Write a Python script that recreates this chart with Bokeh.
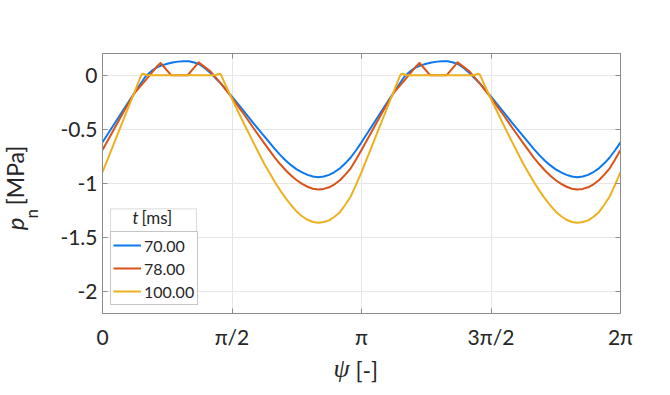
import numpy as np
from bokeh.plotting import figure
from bokeh.layouts import row, column
from bokeh.models import (Range1d, FixedTicker, CustomJSTickFormatter, LinearAxis,
                          Legend, LegendItem, Label, BoxAnnotation)
from bokeh.core.properties import value
from bokeh.embed import file_html
from bokeh.resources import INLINE

# psi in units of pi, p_n in MPa
psi_blue = [0, 0.0417, 0.0833, 0.125, 0.1667, 0.1875, 0.2083, 0.2292, 0.25, 0.2708, 0.2917, 0.3125,
            0.3333, 0.3542, 0.375, 0.3958, 0.4167, 0.4583, 0.5, 0.5417, 0.5833, 0.625, 0.6667, 0.6875,
            0.7083, 0.7292, 0.75, 0.7708, 0.7917, 0.8125, 0.8333, 0.8542, 0.875, 0.8958, 0.9167, 0.9375,
            0.9583, 0.9792, 1.0,
            1.0417, 1.0833, 1.125, 1.1667, 1.1875, 1.2083, 1.2292, 1.25, 1.2708, 1.2917, 1.3125,
            1.3333, 1.3542, 1.375, 1.3958, 1.4167, 1.4583, 1.5, 1.5417, 1.5833, 1.625, 1.6667, 1.6875,
            1.7083, 1.7292, 1.75, 1.7708, 1.7917, 1.8125, 1.8333, 1.8542, 1.875, 1.8958, 1.9167, 1.9375,
            1.9583, 1.9792, 2.0]
pn_blue = [-0.62, -0.465, -0.31, -0.158, -0.01, 0.035, 0.07, 0.09, 0.105, 0.117, 0.125, 0.129,
           0.128, 0.117, 0.1, 0.064, 0.02, -0.08, -0.198, -0.32, -0.445, -0.565, -0.685, -0.74,
           -0.79, -0.833, -0.87, -0.898, -0.92, -0.936, -0.942, -0.936, -0.92, -0.894, -0.86, -0.814,
           -0.76, -0.693, -0.62,
           -0.465, -0.31, -0.158, -0.01, 0.035, 0.07, 0.09, 0.105, 0.117, 0.125, 0.129,
           0.128, 0.117, 0.1, 0.064, 0.02, -0.08, -0.198, -0.32, -0.445, -0.565, -0.685, -0.74,
           -0.79, -0.833, -0.87, -0.898, -0.92, -0.936, -0.942, -0.936, -0.92, -0.894, -0.86, -0.814,
           -0.76, -0.693, -0.62]

psi_orange = [0, 0.0417, 0.0833, 0.125, 0.1667, 0.2083, 0.224, 0.265, 0.329, 0.371, 0.4167, 0.4583,
              0.5, 0.5417, 0.5833, 0.625, 0.6667, 0.6875, 0.7083, 0.7292, 0.75, 0.7708, 0.7917, 0.8125,
              0.8333, 0.8542, 0.875, 0.8958, 0.9167, 0.9375, 0.9583, 0.9792, 1.0,
              1.0417, 1.0833, 1.125, 1.1667, 1.2083, 1.224, 1.265, 1.329, 1.371, 1.4167, 1.4583,
              1.5, 1.5417, 1.5833, 1.625, 1.6667, 1.6875, 1.7083, 1.7292, 1.75, 1.7708, 1.7917, 1.8125,
              1.8333, 1.8542, 1.875, 1.8958, 1.9167, 1.9375, 1.9583, 1.9792, 2.0]
pn_orange = [-0.69, -0.51, -0.33, -0.16, -0.045, 0.075, 0.112, 0.0, 0.0, 0.118, 0.035, -0.08,
             -0.21, -0.345, -0.49, -0.63, -0.765, -0.825, -0.88, -0.928, -0.97, -1.003, -1.03, -1.048,
             -1.056, -1.05, -1.035, -1.007, -0.97, -0.918, -0.86, -0.778, -0.69,
             -0.51, -0.33, -0.16, -0.045, 0.075, 0.112, 0.0, 0.0, 0.118, 0.035, -0.08,
             -0.21, -0.345, -0.49, -0.63, -0.765, -0.825, -0.88, -0.928, -0.97, -1.003, -1.03, -1.048,
             -1.056, -1.05, -1.035, -1.007, -0.97, -0.918, -0.86, -0.778, -0.69]

psi_yellow = [0, 0.0417, 0.0833, 0.125, 0.140, 0.146, 0.152, 0.158, 0.165, 0.173,
              0.436, 0.443, 0.450, 0.456, 0.462, 0.470, 0.5, 0.5417, 0.5833, 0.625, 0.6667, 0.6875,
              0.7083, 0.7292, 0.75, 0.7708, 0.7917, 0.8125, 0.8333, 0.8542, 0.875, 0.8958, 0.9167,
              0.9375, 0.9583, 0.9792, 1.0,
              1.0417, 1.0833, 1.125, 1.140, 1.146, 1.152, 1.158, 1.165, 1.173,
              1.436, 1.443, 1.450, 1.456, 1.462, 1.470, 1.5, 1.5417, 1.5833, 1.625, 1.6667, 1.6875,
              1.7083, 1.7292, 1.75, 1.7708, 1.7917, 1.8125, 1.8333, 1.8542, 1.875, 1.8958, 1.9167,
              1.9375, 1.9583, 1.9792, 2.0]
pn_yellow = [-0.895, -0.646, -0.397, -0.148, -0.057, -0.02, 0.008, 0.013, 0.006, 0.0,
             0.0, 0.006, 0.013, 0.008, -0.02, -0.065, -0.22, -0.425, -0.625, -0.82, -0.99, -1.068,
             -1.14, -1.203, -1.26, -1.302, -1.335, -1.355, -1.362, -1.356, -1.34, -1.307, -1.265,
             -1.196, -1.12, -1.01, -0.895,
             -0.646, -0.397, -0.148, -0.057, -0.02, 0.008, 0.013, 0.006, 0.0,
             0.0, 0.006, 0.013, 0.008, -0.02, -0.065, -0.22, -0.425, -0.625, -0.82, -0.99, -1.068,
             -1.14, -1.203, -1.26, -1.302, -1.335, -1.355, -1.362, -1.356, -1.34, -1.307, -1.265,
             -1.196, -1.12, -1.01, -0.895]

series_labels = ["70.00", "78.00", "100.00"]
x_tick_values = [0, 0.5, 1, 1.5, 2]
x_tick_labels = ["0", "π/2", "π", "3π/2", "2π"]
y_tick_values = [-2, -1.5, -1, -0.5, 0]
y_tick_labels = ["-2", "-1.5", "-1", "-0.5", "0"]

BLUE = "#0a78f0"
ORANGE = "#D95319"
YELLOW = "#EDB120"
GRAY = "#8c8c8c"
TXT = "#262626"
FONT = "Lato"

YLAB_W = 50
MAIN_H = 353
TOTAL_W = 662
TOTAL_H = 395

p = figure(width=TOTAL_W - YLAB_W, height=MAIN_H, x_range=Range1d(0, 2), y_range=Range1d(-2.2, 0.2),
           output_backend="svg", toolbar_location=None, title=None,
           min_border_left=52, min_border_right=42, min_border_top=53, min_border_bottom=40)
p.background_fill_color = "white"
p.border_fill_color = "white"
p.outline_line_color = GRAY
p.outline_line_width = 1

xticker = FixedTicker(ticks=x_tick_values)
yticker = FixedTicker(ticks=y_tick_values)
code = "const i = vals.findIndex(v => Math.abs(v - tick) < 1e-9); return i >= 0 ? labs[i] : '';"
xfmt = CustomJSTickFormatter(args=dict(vals=x_tick_values, labs=x_tick_labels), code=code)
yfmt = CustomJSTickFormatter(args=dict(vals=y_tick_values, labs=y_tick_labels), code=code)
empty = CustomJSTickFormatter(code="return '';")

def style_axis(ax, standoff):
    ax.major_tick_in = 5
    ax.major_tick_out = 0
    ax.minor_tick_in = 0
    ax.minor_tick_out = 0
    ax.axis_line_color = GRAY
    ax.major_tick_line_color = GRAY
    ax.major_label_text_font = FONT
    ax.major_label_text_font_size = "21px"
    ax.major_label_text_color = TXT
    ax.major_label_standoff = standoff

bx = p.below[0]
bx.ticker = xticker
bx.formatter = xfmt
style_axis(bx, 10)
ly = p.left[0]
ly.ticker = yticker
ly.formatter = yfmt
style_axis(ly, 5)

top = LinearAxis(ticker=xticker, formatter=empty)
style_axis(top, 0)
top.major_label_text_font_size = "1px"
p.add_layout(top, "above")
right = LinearAxis(ticker=yticker, formatter=empty)
style_axis(right, 0)
right.major_label_text_font_size = "1px"
p.add_layout(right, "right")

p.xgrid.ticker = xticker
p.ygrid.ticker = yticker
p.xgrid.grid_line_color = "#e6e6e6"
p.ygrid.grid_line_color = "#e6e6e6"

r1 = p.line(psi_blue, pn_blue, line_color=BLUE, line_width=2, line_join="round")
r2 = p.line(psi_orange, pn_orange, line_color=ORANGE, line_width=2, line_join="round")
r3 = p.line(psi_yellow, pn_yellow, line_color=YELLOW, line_width=2, line_join="round")

legend = Legend(items=[LegendItem(label=value(series_labels[0]), renderers=[r1]),
                       LegendItem(label=value(series_labels[1]), renderers=[r2]),
                       LegendItem(label=value(series_labels[2]), renderers=[r3])],
                location=(8, 8), orientation="vertical", padding=2, spacing=1,
                label_height=22, glyph_height=22, glyph_width=28, label_standoff=3,
                label_width=51, label_text_font=FONT, label_text_font_size="16px",
                label_text_color=TXT, border_line_color=GRAY, border_line_width=1,
                background_fill_color="white", background_fill_alpha=1, margin=0)
p.add_layout(legend)

# legend title box
p.add_layout(BoxAnnotation(left=0.0309, right=0.3629, top=-1.234, bottom=-1.464,
                           fill_color="white", fill_alpha=1, line_color=GRAY, line_width=1))
p.add_layout(Label(x=0.1158, y=-1.31, text="t", text_font=FONT, text_font_style="italic",
                   text_font_size="17px", text_color=TXT, text_baseline="alphabetic"))
p.add_layout(Label(x=0.1506, y=-1.31, text="[ms]", text_font=FONT,
                   text_font_size="17px", text_color=TXT, text_baseline="alphabetic"))


def text_panel(w, h, y_top):
    f = figure(width=w, height=h, x_range=Range1d(0, w), y_range=Range1d(y_top + h, y_top),
               output_backend="svg", toolbar_location=None, title=None,
               x_axis_type=None, y_axis_type=None, min_border=0)
    f.outline_line_color = None
    f.background_fill_color = "white"
    f.border_fill_color = "white"
    f.xgrid.visible = False
    f.ygrid.visible = False
    return f


def put(f, x, y, text, size, italic=False, font=FONT, angle=0.0):
    f.add_layout(Label(x=x, y=y, text=text, angle=angle,
                       text_font=font, text_font_style="italic" if italic else "normal",
                       text_font_size=size, text_color=TXT,
                       text_baseline="alphabetic", text_align="left"))


ylab = text_panel(YLAB_W, MAIN_H, 0)
put(ylab, 14, 240, "p", "24px", italic=True, angle=np.pi / 2)
put(ylab, 31, 224, "n", "17px", angle=np.pi / 2)
put(ylab, 14, 206, "[MPa]", "23px", angle=np.pi / 2)

xlab = text_panel(TOTAL_W, TOTAL_H - MAIN_H, MAIN_H)
put(xlab, 333, 368, "ψ", "26px", italic=True, font="Liberation Serif")
put(xlab, 355, 369, "[-]", "23px")

layout = column(row(ylab, p, spacing=0), xlab, spacing=0)

open("out.html", "w").write(file_html(layout, INLINE))
